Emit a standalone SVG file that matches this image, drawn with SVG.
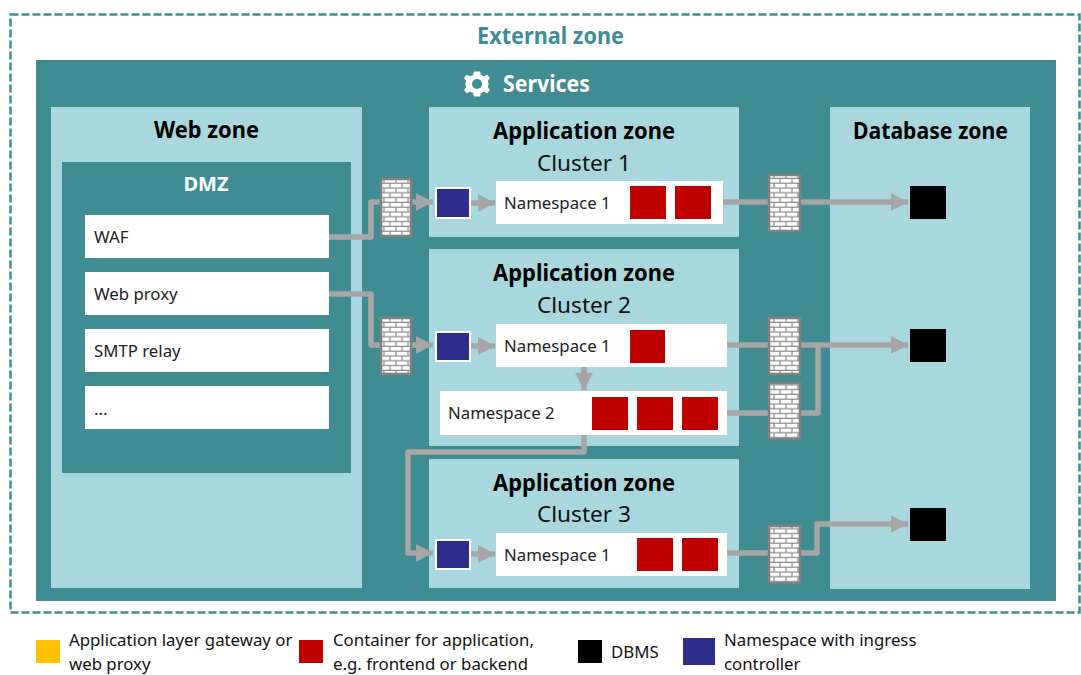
<svg xmlns="http://www.w3.org/2000/svg" width="1081" height="675" viewBox="0 0 1081 675">
<style>
text{font-family:"Noto Sans","Open Sans","Liberation Sans",sans-serif;fill:#111}
.z{fill:#a8d8dd}.t{fill:#3f8c93}.w{fill:#fff}
.h{font-size:23px;font-weight:700;text-anchor:middle;fill:#000}
.c{font-size:22px;text-anchor:middle}
.l{font-size:16.800px}
.k{font-size:16.800px;fill:#222}
.n{fill:#2e2d8c;stroke:#fff;stroke-width:2}
.r{fill:#c00000}
.d{fill:#000}
.conn{fill:none;stroke:#a6a6a6;stroke-width:5.5;stroke-linejoin:round}
.fw{fill:url(#brick);stroke:#808080;stroke-width:2.5}
</style>
<defs>
<pattern id="brick" width="12" height="9.600" patternUnits="userSpaceOnUse" x="381" y="179">
<rect width="12" height="9.600" fill="#fff"/>
<path d="M0 4.200H12M0 9H12M3 0V4.200M9 4.800V9" stroke="#8a8a8a" stroke-width="1.200" fill="none"/>
</pattern>
<marker id="a" markerUnits="userSpaceOnUse" markerWidth="18" markerHeight="18" refX="17" refY="9" orient="auto"><path d="M0 0L17 9L0 18Z" fill="#a6a6a6"/></marker>
</defs>
<rect x="10.500" y="14.500" width="1069" height="598" fill="none" stroke="#3f8c93" stroke-width="2.500" stroke-dasharray="8 3"/>
<text x="550.500" y="44" text-anchor="middle" font-size="23" font-weight="700" textLength="147" lengthAdjust="spacingAndGlyphs" style="fill:#3f8c93">External zone</text>
<rect id="services" class="t" x="36" y="60" width="1020" height="541"/>
<g id="services-label">
<g transform="translate(477 84)"><path fill="#fff" d="M-3-12.500H3L4-9 7-7.700 10.300-9.300 13-6 10.800-3 11.800 0 10.800 3 13 6 10.300 9.300 7 7.700 4 9 3 12.500H-3L-4 9-7 7.700-10.300 9.300-13 6-10.800 3-11.800 0-10.800-3-13-6-10.300-9.300-7-7.700-4-9Z"/><circle r="5" fill="#3f8c93"/></g>
<text x="546.500" y="92" text-anchor="middle" font-size="23" font-weight="700" textLength="87" lengthAdjust="spacingAndGlyphs" style="fill:#fff">Services</text>
</g>
<g id="web-zone">
<rect class="z" x="51" y="107" width="311" height="481"/>
<text class="h" x="206.500" y="138" textLength="105" lengthAdjust="spacingAndGlyphs">Web zone</text>
<rect class="t" x="62" y="162" width="289" height="311"/>
<text x="206" y="191" text-anchor="middle" font-size="20" font-weight="700" style="fill:#fff">DMZ</text>
</g>
<g id="waf"><rect class="w" x="85" y="215" width="244" height="43"/><text class="k" x="94" y="243">WAF</text></g>
<g id="web-proxy"><rect class="w" x="85" y="272" width="244" height="43"/><text class="k" x="94" y="300">Web proxy</text></g>
<g id="smtp-relay"><rect class="w" x="85" y="329" width="244" height="43"/><text class="k" x="94" y="357">SMTP relay</text></g>
<g id="more"><rect class="w" x="85" y="386" width="244" height="43"/><text class="k" x="94" y="415">...</text></g>
<g id="app-zone-1">
<rect class="z" x="429" y="107" width="310" height="130"/>
<text class="h" x="584" y="139" textLength="182" lengthAdjust="spacingAndGlyphs">Application zone</text>
<text class="c" x="584" y="171" textLength="94" lengthAdjust="spacingAndGlyphs">Cluster 1</text>
<rect class="w" x="496" y="181" width="227" height="43"/>
<text class="k" x="504" y="209">Namespace 1</text>
<rect class="r" x="630" y="186" width="36" height="33"/><rect class="r" x="675" y="186" width="36" height="33"/>
</g>
<g id="app-zone-2">
<rect class="z" x="429" y="249" width="310" height="197"/>
<text class="h" x="584" y="281" textLength="182" lengthAdjust="spacingAndGlyphs">Application zone</text>
<text class="c" x="584" y="313" textLength="94" lengthAdjust="spacingAndGlyphs">Cluster 2</text>
<rect class="w" x="496" y="324" width="231" height="43"/>
<text class="k" x="504" y="352">Namespace 1</text>
<rect class="r" x="630" y="330" width="35" height="33"/>
<rect class="w" x="440" y="391" width="287" height="44"/>
<text class="k" x="448" y="419">Namespace 2</text>
<rect class="r" x="592" y="397" width="36" height="33"/><rect class="r" x="637" y="397" width="36" height="33"/><rect class="r" x="682" y="397" width="36" height="33"/>
</g>
<g id="app-zone-3">
<rect class="z" x="429" y="459" width="310" height="129"/>
<text class="h" x="584" y="491" textLength="182" lengthAdjust="spacingAndGlyphs">Application zone</text>
<text class="c" x="584" y="522" textLength="94" lengthAdjust="spacingAndGlyphs">Cluster 3</text>
<rect class="w" x="496" y="533" width="231" height="43"/>
<text class="k" x="504" y="561">Namespace 1</text>
<rect class="r" x="637" y="538" width="36" height="33"/><rect class="r" x="682" y="538" width="36" height="33"/>
</g>
<g id="db-zone">
<rect class="z" x="830" y="107" width="200" height="482"/>
<text class="h" x="930.500" y="139" textLength="155" lengthAdjust="spacingAndGlyphs">Database zone</text>
</g>
<g id="connectors" class="conn">
<path d="M329 237H371V202H433" marker-end="url(#a)"/>
<path d="M329 294H371V345H433" marker-end="url(#a)"/>
<path d="M471 203H495" marker-end="url(#a)"/>
<path d="M471 346H495" marker-end="url(#a)"/>
<path d="M471 554H495" marker-end="url(#a)"/>
<path d="M584 367V390" marker-end="url(#a)"/>
<path d="M584 435V452H408V553H433" marker-end="url(#a)"/>
<path d="M723 202H908" marker-end="url(#a)"/>
<path d="M727 345H908" marker-end="url(#a)"/>
<path d="M727 413H818V346"/>
<path d="M727 553H817V524H908" marker-end="url(#a)"/>
</g>
<g id="fw-1"><rect class="fw" x="381" y="179" width="30" height="57"/></g>
<g id="fw-2"><rect class="fw" x="381" y="318" width="30" height="56"/></g>
<g id="fw-3"><rect class="fw" x="769" y="175" width="31" height="56"/></g>
<g id="fw-4"><rect class="fw" x="769" y="318" width="31" height="56"/></g>
<g id="fw-5"><rect class="fw" x="769" y="383" width="31" height="56"/></g>
<g id="fw-6"><rect class="fw" x="769" y="526" width="31" height="57"/></g>
<g id="ingress-1"><rect class="n" x="436" y="188" width="34" height="30"/></g>
<g id="ingress-2"><rect class="n" x="436" y="332" width="34" height="29"/></g>
<g id="ingress-3"><rect class="n" x="436" y="540" width="34" height="29"/></g>
<g id="db-1"><rect class="d" x="910" y="186" width="36" height="33"/></g>
<g id="db-2"><rect class="d" x="910" y="329" width="36" height="33"/></g>
<g id="db-3"><rect class="d" x="910" y="508" width="36" height="33"/></g>
<g id="legend">
<rect x="36" y="640" width="24" height="23" fill="#ffc000"/>
<text class="l" x="69" y="646">Application layer gateway or</text><text class="l" x="69" y="670">web proxy</text>
<rect class="r" x="299" y="640" width="24" height="23"/>
<text class="l" x="333" y="646">Container for application,</text><text class="l" x="333" y="670">e.g. frontend or backend</text>
<rect class="d" x="578" y="640" width="24" height="23"/>
<text class="l" x="611" y="658">DBMS</text>
<rect x="683" y="638" width="32" height="27" fill="#2e2d8c"/>
<text class="l" x="724" y="646">Namespace with ingress</text><text class="l" x="724" y="670">controller</text>
</g>
</svg>
